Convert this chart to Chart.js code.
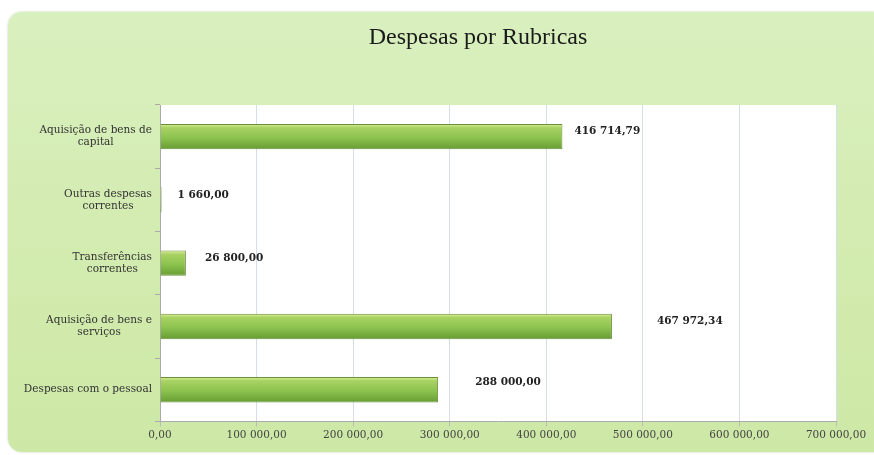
<!DOCTYPE html>
<html lang="pt">
<head>
<meta charset="UTF-8">
<title>Despesas por Rubricas</title>
<script src="https://cdn.jsdelivr.net/npm/chart.js"></script>
<style>
  body { margin: 0; background: #fff; }
  #wrap { position: relative; width: 874px; height: 455px; overflow: hidden; }
  #panel {
    position: absolute; left: 8px; top: 12px; width: 890px; height: 440px;
    border-radius: 14px;
    background: linear-gradient(180deg, #d9f0bf 0%, #d2ebae 60%, #cde8a6 100%);
    box-shadow: 0 0 2px rgba(120,160,80,0.5);
  }
  #chart { position: absolute; left: 0; top: 0; }
</style>
</head>
<body>
<div id="wrap">
  <div id="panel"></div>
  <canvas id="chart" width="874" height="455"></canvas>
</div>
<script>
// categories from top to bottom
var categories = [
    ['Aquisição de bens de', 'capital'],
    ['Outras despesas', 'correntes'],
    ['Transferências', 'correntes'],
    ['Aquisição de bens e', 'serviços'],
    ['Despesas com o pessoal']
]
var valores = [416714.79, 1660.00, 26800.00, 467972.34, 288000.00]
var xTicks = [0, 100000, 200000, 300000, 400000, 500000, 600000, 700000]
var titulo = 'Despesas por Rubricas'

var serif = "'DejaVu Serif', serif"

function fmt(v) {
    var parts = v.toFixed(2).split('.')
    var int = parts[0].replace(/\B(?=(\d{3})+(?!\d))/g, ' ')
    return int + ',' + parts[1]
}

// white plot area + title
var plotBg = {
    id: 'plotBg',
    beforeDraw(chart) {
        var a = chart.chartArea, c = chart.ctx
        c.save()
        c.fillStyle = '#ffffff'
        c.fillRect(a.left, a.top, a.right - a.left, a.bottom - a.top)
        c.restore()
    },
    afterDraw(chart) {
        var c = chart.ctx
        c.save()
        c.font = "24px 'Liberation Serif', serif"
        c.fillStyle = '#1a1a1a'
        c.textAlign = 'center'
        c.textBaseline = 'middle'
        c.fillText(titulo, 478, 38)
        c.restore()
    }
}

// category labels: centered blocks, right aligned against the axis
var catLabels = {
    id: 'catLabels',
    afterDraw(chart) {
        var y = chart.scales.y, c = chart.ctx
        c.save()
        c.font = '10.5px ' + serif
        c.fillStyle = '#333'
        c.textAlign = 'center'
        c.textBaseline = 'middle'
        var right = y.right - 8
        categories.forEach(function (lines, i) {
            var w = Math.max.apply(null, lines.map(function (l) { return c.measureText(l).width }))
            var cx = right - w / 2
            var py = y.getPixelForTick(i)
            var lh = 12
            var y0 = py - (lines.length - 1) * lh / 2
            lines.forEach(function (l, k) { c.fillText(l, cx, y0 + k * lh) })
        })
        c.restore()
    }
}

// value labels to the right of the bars
var labelShift = [12, 16, 19, 45, 37]
var valLabels = {
    id: 'valLabels',
    afterDatasetsDraw(chart) {
        var meta = chart.getDatasetMeta(0), c = chart.ctx
        c.save()
        c.font = 'bold 10.5px ' + serif
        c.fillStyle = '#222'
        c.textAlign = 'left'
        c.textBaseline = 'middle'
        meta.data.forEach(function (bar, i) {
            var dy = i === 4 ? -7 : -5
            c.fillText(fmt(valores[i]), bar.x + labelShift[i], bar.y + dy)
        })
        c.restore()
    }
}

function barFill(ctx) {
    var chart = ctx.chart
    var ys = chart.scales && chart.scales.y
    if (!ys || !chart.chartArea || ctx.dataIndex === undefined) return '#8cc152'
    var cy = ys.getPixelForValue(ctx.dataIndex)
    var h = (ys.bottom - ys.top) / categories.length * 0.4
    var g = chart.ctx.createLinearGradient(0, cy - h / 2, 0, cy + h / 2)
    g.addColorStop(0, '#dcef94')
    g.addColorStop(0.15, '#a8d264')
    g.addColorStop(0.55, '#8cc24e')
    g.addColorStop(1, '#679c34')
    return g
}

var canvas = document.getElementById('chart')
var grafico = new Chart(canvas, {
    type: 'bar',
    data: {
        labels: categories,
        datasets: [{
            label: 'Despesas',
            data: valores,
            backgroundColor: barFill,
            borderColor: '#6b8f3a',
            borderWidth: 1,
            categoryPercentage: 0.8,
            barPercentage: 0.5
        }]
    },
    options: {
        indexAxis: 'y',
        responsive: false,
        animation: false,
        layout: { padding: { top: 105, left: 8, right: 38, bottom: 10 } },
        plugins: {
            legend: { display: false },
            title: { display: false },
            tooltip: { enabled: false }
        },
        scales: {
            x: {
                min: 0,
                max: 700000,
                afterBuildTicks: function (s) { s.ticks = xTicks.map(function (v) { return { value: v } }) },
                ticks: {
                    callback: function (v) { return fmt(v) },
                    font: { family: serif, size: 10.5 },
                    color: '#444',
                    maxRotation: 0,
                    padding: 3
                },
                grid: { color: '#d3e0ea', tickColor: '#bbb', tickLength: 5 },
                border: { color: '#aaa' }
            },
            y: {
                ticks: { display: false },
                afterFit: function (s) { s.width = 152 },
                grid: { drawOnChartArea: false, drawTicks: true, tickLength: 5, color: '#aaa', offset: true },
                border: { color: '#aaa' }
            }
        }
    },
    plugins: [plotBg, catLabels, valLabels]
})
</script>
</body>
</html>
